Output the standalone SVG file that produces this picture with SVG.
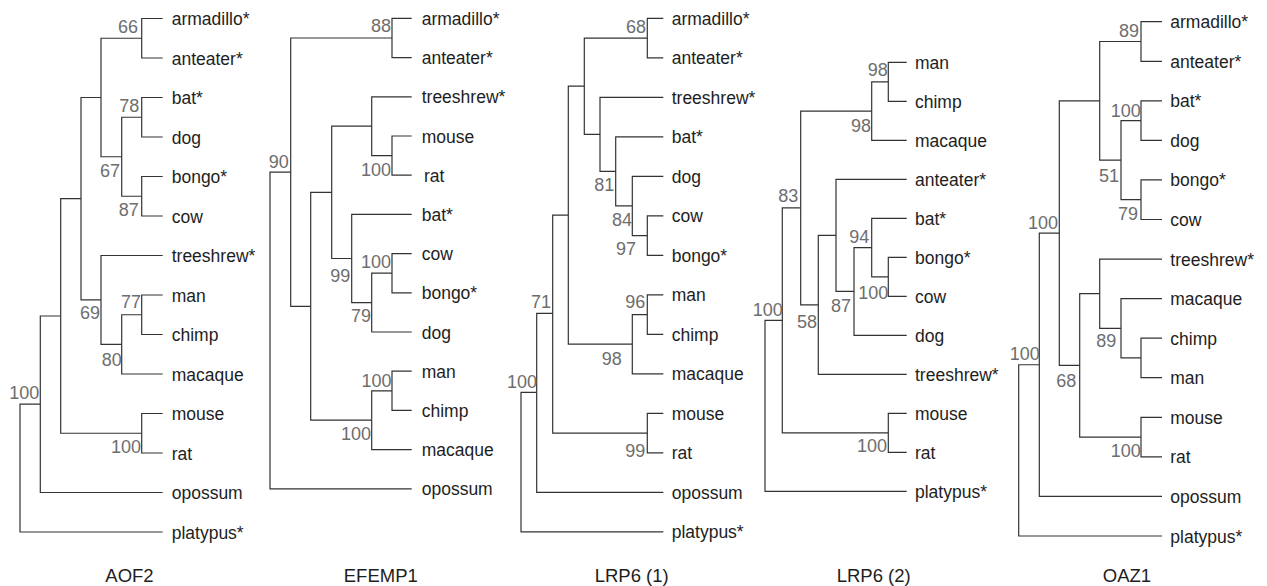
<svg xmlns="http://www.w3.org/2000/svg" width="1267" height="586" viewBox="0 0 1267 586">
<style>
.e{fill:none;stroke:#333;stroke-width:1.2}
.l{font-family:"Liberation Sans",Arial,sans-serif;font-size:17.5px;fill:#1e1e1e}
.b{font-family:"Liberation Sans",Arial,sans-serif;font-size:18px;fill:#6e6e6e;text-anchor:end}
.t{font-family:"Liberation Sans",Arial,sans-serif;font-size:18.5px;fill:#1e1e1e;text-anchor:middle}
</style>
<rect width="1267" height="586" fill="#fff"/>
<g id="connectors">
<g id="AOF2-edges" class="e">
<path d="M162.7 18.5H141.7V58H162.7"/>
<path d="M162.7 97.5H141.7V137H162.7"/>
<path d="M162.7 176.5H141.7V216H162.7"/>
<path d="M141.7 117.25H121.7V196.25H141.7"/>
<path d="M141.7 38.25H101V156.75H121.7"/>
<path d="M162.7 295H141.7V334.5H162.7"/>
<path d="M141.7 314.75H121.7V374H162.7"/>
<path d="M162.7 255.5H101V344.4H121.7"/>
<path d="M101 97.5H81V299.9H101"/>
<path d="M162.7 413.5H141.7V453H162.7"/>
<path d="M81 198.7H60.7V433.25H141.7"/>
<path d="M60.7 316H40.3V492.5H162.7"/>
<path d="M40.3 404.2H20V532H162.7"/>
</g>
<g id="EFEMP1-edges" class="e">
<path d="M411.7 18.4H392V57.6H411.7"/>
<path d="M411.7 136H392V175.2H411.7"/>
<path d="M411.7 96.8H371.7V155.6H392"/>
<path d="M411.7 253.6H392V292.8H411.7"/>
<path d="M392 273.2H371.7V332H411.7"/>
<path d="M411.7 214.4H351.7V302.6H371.7"/>
<path d="M371.7 126.2H331.7V258.5H351.7"/>
<path d="M411.7 371.2H392V410.4H411.7"/>
<path d="M392 390.8H371.7V449.6H411.7"/>
<path d="M331.7 192.35H310.7V420.2H371.7"/>
<path d="M392 38H290.7V306.3H310.7"/>
<path d="M290.7 172.15H270V488.8H411.7"/>
</g>
<g id="LRP6-1-edges" class="e">
<path d="M663.3 18.3H647.3V57.8H663.3"/>
<path d="M663.3 215.8H647.3V255.3H663.3"/>
<path d="M663.3 176.3H632.3V235.55H647.3"/>
<path d="M663.3 136.8H615.7V205.9H632.3"/>
<path d="M663.3 97.3H600V171.35H615.7"/>
<path d="M647.3 38.05H584.3V134.3H600"/>
<path d="M663.3 294.8H647.3V334.3H663.3"/>
<path d="M647.3 314.55H632.3V373.8H663.3"/>
<path d="M584.3 86.2H568.3V344.2H632.3"/>
<path d="M663.3 413.3H647.3V452.8H663.3"/>
<path d="M568.3 215.2H552.7V433.05H647.3"/>
<path d="M552.7 313.3H536.7V492.3H663.3"/>
<path d="M536.7 392.3H521V531.8H663.3"/>
</g>
<g id="LRP6-2-edges" class="e">
<path d="M906.7 62.3H888.3V101.3H906.7"/>
<path d="M888.3 81.8H871.7V140.3H906.7"/>
<path d="M906.7 257.3H888.3V296.3H906.7"/>
<path d="M906.7 218.3H871.7V276.8H888.3"/>
<path d="M871.7 247.55H854V335.3H906.7"/>
<path d="M906.7 179.3H836V291.4H854"/>
<path d="M836 235.35H818.3V374.3H906.7"/>
<path d="M871.7 111.05H800.7V304.8H818.3"/>
<path d="M906.7 413.3H888.3V452.3H906.7"/>
<path d="M800.7 207.9H782.3V432.8H888.3"/>
<path d="M782.3 320.35H765V491.3H906.7"/>
</g>
<g id="OAZ1-edges" class="e">
<path d="M1162 21.7H1141V61.3H1162"/>
<path d="M1162 100.8H1141V140.4H1162"/>
<path d="M1162 179.9H1141V219.5H1162"/>
<path d="M1141 120.6H1121V199.7H1141"/>
<path d="M1141 41.5H1099.7V160.15H1121"/>
<path d="M1162 338.2H1141V377.7H1162"/>
<path d="M1162 298.6H1121V357.95H1141"/>
<path d="M1162 259.1H1099.7V328.3H1121"/>
<path d="M1162 417.3H1141V456.9H1162"/>
<path d="M1099.7 293.7H1079.7V437.1H1141"/>
<path d="M1099.7 100.8H1059.3V365.4H1079.7"/>
<path d="M1059.3 233.1H1039.3V496.4H1162"/>
<path d="M1039.3 364.75H1018.7V536H1162"/>
</g>
</g>
<g id="tree-AOF2">
<g id="AOF2-leaves" class="l">
<text x="171.7" y="25">armadillo*</text>
<text x="171.7" y="64.5">anteater*</text>
<text x="171.7" y="104">bat*</text>
<text x="171.7" y="143.5">dog</text>
<text x="171.7" y="183">bongo*</text>
<text x="171.7" y="222.5">cow</text>
<text x="171.7" y="262">treeshrew*</text>
<text x="171.7" y="301.5">man</text>
<text x="171.7" y="341">chimp</text>
<text x="171.7" y="380.5">macaque</text>
<text x="171.7" y="420">mouse</text>
<text x="171.7" y="459.5">rat</text>
<text x="171.7" y="499">opossum</text>
<text x="171.7" y="538.5">platypus*</text>
</g>
<g id="AOF2-support" class="b">
<text x="138" y="33.3">66</text>
<text x="139.3" y="111.7">78</text>
<text x="120" y="176.7">67</text>
<text x="138.7" y="216">87</text>
<text x="141" y="308.3">77</text>
<text x="100" y="319.3">69</text>
<text x="121.7" y="366">80</text>
<text x="141" y="452.7">100</text>
<text x="39.3" y="399.3">100</text>
</g>
<text class="t" x="129.5" y="582">AOF2</text>
</g>
<g id="tree-EFEMP1">
<g id="EFEMP1-leaves" class="l">
<text x="421.7" y="24.9">armadillo*</text>
<text x="421.7" y="64.1">anteater*</text>
<text x="421.7" y="103.3">treeshrew*</text>
<text x="421.7" y="142.5">mouse</text>
<text x="424" y="181.7">rat</text>
<text x="421.7" y="220.9">bat*</text>
<text x="421.7" y="260.1">cow</text>
<text x="421.7" y="299.3">bongo*</text>
<text x="421.7" y="338.5">dog</text>
<text x="421.7" y="377.7">man</text>
<text x="421.7" y="416.9">chimp</text>
<text x="421.7" y="456.1">macaque</text>
<text x="421.7" y="495.3">opossum</text>
</g>
<g id="EFEMP1-support" class="b">
<text x="391" y="31.7">88</text>
<text x="288.7" y="168.3">90</text>
<text x="391" y="176">100</text>
<text x="350.3" y="281.7">99</text>
<text x="391" y="268.3">100</text>
<text x="371" y="321.7">79</text>
<text x="391.5" y="386.7">100</text>
<text x="371" y="440">100</text>
</g>
<text class="t" x="380.8" y="582">EFEMP1</text>
</g>
<g id="tree-LRP6-1">
<g id="LRP6-1-leaves" class="l">
<text x="671.7" y="24.8">armadillo*</text>
<text x="671.7" y="64.3">anteater*</text>
<text x="671.7" y="103.8">treeshrew*</text>
<text x="671.7" y="143.3">bat*</text>
<text x="671.7" y="182.8">dog</text>
<text x="671.7" y="222.3">cow</text>
<text x="671.7" y="261.8">bongo*</text>
<text x="671.7" y="301.3">man</text>
<text x="671.7" y="340.8">chimp</text>
<text x="671.7" y="380.3">macaque</text>
<text x="671.7" y="419.8">mouse</text>
<text x="671.7" y="459.3">rat</text>
<text x="671.7" y="498.8">opossum</text>
<text x="671.7" y="538.3">platypus*</text>
</g>
<g id="LRP6-1-support" class="b">
<text x="646" y="32.7">68</text>
<text x="614.3" y="190.7">81</text>
<text x="632" y="225.7">84</text>
<text x="636" y="255">97</text>
<text x="645.3" y="307.7">96</text>
<text x="621.7" y="365">98</text>
<text x="551" y="307.7">71</text>
<text x="537" y="388.3">100</text>
<text x="645.3" y="456.7">99</text>
</g>
<text class="t" x="631.7" y="582">LRP6 (1)</text>
</g>
<g id="tree-LRP6-2">
<g id="LRP6-2-leaves" class="l">
<text x="915" y="68.8">man</text>
<text x="915" y="107.8">chimp</text>
<text x="915" y="146.8">macaque</text>
<text x="915" y="185.8">anteater*</text>
<text x="915" y="224.8">bat*</text>
<text x="915" y="263.8">bongo*</text>
<text x="915" y="302.8">cow</text>
<text x="915" y="341.8">dog</text>
<text x="915" y="380.8">treeshrew*</text>
<text x="915" y="419.8">mouse</text>
<text x="915" y="458.8">rat</text>
<text x="915" y="497.8">platypus*</text>
</g>
<g id="LRP6-2-support" class="b">
<text x="887.7" y="76">98</text>
<text x="871" y="131.7">98</text>
<text x="798.3" y="201.7">83</text>
<text x="869.3" y="243.3">94</text>
<text x="888.3" y="299">100</text>
<text x="851" y="311.7">87</text>
<text x="817" y="327.7">58</text>
<text x="782.7" y="316">100</text>
<text x="887" y="452.3">100</text>
</g>
<text class="t" x="873.7" y="582">LRP6 (2)</text>
</g>
<g id="tree-OAZ1">
<g id="OAZ1-leaves" class="l">
<text x="1170.3" y="28.2">armadillo*</text>
<text x="1170.3" y="67.8">anteater*</text>
<text x="1170.3" y="107.3">bat*</text>
<text x="1170.3" y="146.9">dog</text>
<text x="1170.3" y="186.4">bongo*</text>
<text x="1170.3" y="226">cow</text>
<text x="1170.3" y="265.6">treeshrew*</text>
<text x="1170.3" y="305.1">macaque</text>
<text x="1170.3" y="344.7">chimp</text>
<text x="1170.3" y="384.2">man</text>
<text x="1170.3" y="423.8">mouse</text>
<text x="1170.3" y="463.4">rat</text>
<text x="1170.3" y="502.9">opossum</text>
<text x="1170.3" y="542.5">platypus*</text>
</g>
<g id="OAZ1-support" class="b">
<text x="1139" y="37.3">89</text>
<text x="1140.7" y="116.7">100</text>
<text x="1119" y="181.7">51</text>
<text x="1138" y="220">79</text>
<text x="1058" y="229.3">100</text>
<text x="1116.3" y="346.7">89</text>
<text x="1076.3" y="386.7">68</text>
<text x="1039.7" y="360">100</text>
<text x="1140.7" y="456.7">100</text>
</g>
<text class="t" x="1127" y="582">OAZ1</text>
</g>
</svg>
